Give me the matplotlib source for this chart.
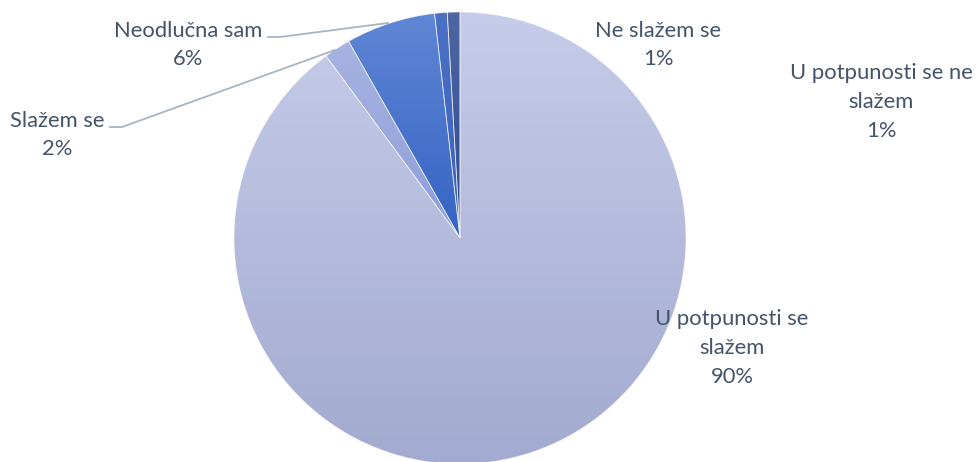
import numpy as np
import matplotlib
matplotlib.use("Agg")
import matplotlib.pyplot as plt
from matplotlib.colors import LinearSegmentedColormap

# data (share of answers, %)
labels = ["U potpunosti se\nslažem", "Slažem se", "Neodlučna sam",
          "Ne slažem se", "U potpunosti se ne\nslažem"]
shares = [89.9, 1.9, 6.4, 0.9, 0.9]

# gradient per slice (top colour, bottom colour)
grad = [("#c6cce9", "#a2aacf"),
        ("#a6b3e2", "#8d9dd8"),
        ("#6087d5", "#3463c4"),
        ("#4c70c6", "#3a61bc"),
        ("#4f66a2", "#2d4c92")]

W, H = 976, 462
cx, cy, r = 460, H - 238, 226
txt_col = "#44546a"
plt.rcParams['font.family'] = ['Lato', 'DejaVu Sans']

fig = plt.figure(figsize=(W / 100, H / 100), dpi=100)
ax = fig.add_axes([0, 0, 1, 1])

wedges, _ = ax.pie(shares, startangle=90, counterclock=False,
                   center=(cx, cy), radius=r, frame=True,
                   wedgeprops=dict(edgecolor=(1, 1, 1, 0.6), linewidth=0.6))

for w, (c1, c2) in zip(wedges, grad):
    ext = w.get_path().get_extents()
    cmap = LinearSegmentedColormap.from_list("g", [c2, c1])
    img = ax.imshow(np.linspace(1, 0, 256).reshape(-1, 1), cmap=cmap,
                    vmin=0, vmax=1, aspect="auto", origin="upper",
                    extent=(ext.x0, ext.x1, ext.y0, ext.y1), zorder=1)
    img.set_clip_path(w)
    w.set_facecolor("none")
    w.set_zorder(2)

ax.set_xlim(0, W)
ax.set_ylim(0, H)
ax.set_aspect("auto")
ax.axis("off")

# data labels
pos = [(732, H - 348), (57, H - 135), (188, H - 45), (658, H - 45), (881, H - 102)]
for lab, s, (x, y) in zip(labels, shares, pos):
    ax.text(x, y, f"{lab}\n{s:.0f}%", ha="center", va="center",
            fontsize=15.8, color=txt_col, linespacing=1.55, zorder=5)

# leader lines
line_col = "#a9b4c2"
ax.plot([268, 280, 388], [H - 37, H - 37, H - 23], color=line_col, lw=1.3, zorder=4)
ax.plot([110, 122, 335], [H - 127, H - 127, H - 50], color=line_col, lw=1.3, zorder=4)

fig.savefig("out.png", dpi=100)
